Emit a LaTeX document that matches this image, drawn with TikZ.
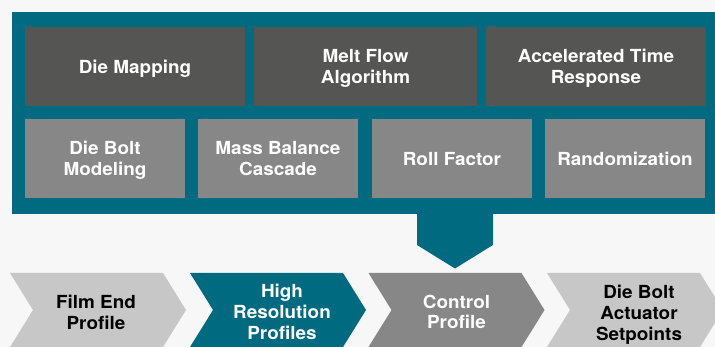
\documentclass[tikz,border=0pt]{standalone}
\usepackage{fontspec}
\setmainfont{TeX Gyre Heros}[FakeStretch=1.05]
\usepackage{tikz}
\usetikzlibrary{calc}
\usepackage{xcolor}
\definecolor{frameteal}{HTML}{006A80}
\definecolor{tiledark}{HTML}{555553}
\definecolor{tilegray}{HTML}{878787}
\definecolor{steplight}{HTML}{C6C7C6}
\definecolor{pagebg}{HTML}{F7F7F7}
\newcommand{\chevw}{153}
\newcommand{\chevtip}{23}
\newcommand{\prchev}[2]{\fill[#2] (#1,273) -- ++(\chevw,0) -- ++(\chevtip,37) -- ++(-\chevtip,37) -- ++(-\chevw,0) -- ++(\chevtip,-37) -- cycle;}

\begin{document}
\begin{tikzpicture}[x=1pt,y=-1pt,
    bigtext/.style={align=center,inner sep=0pt,font=\bfseries\fontsize{18}{20.8}\selectfont},
    tile/.style={bigtext,text=white,text depth=0pt,minimum height=79pt},
    darktile/.style={tile,fill=tiledark,minimum width=220pt},
    graytile/.style={tile,fill=tilegray,minimum width=160pt},
    label/.style={bigtext}]
	\fill[pagebg] (0,0) rectangle (715,347);
	\clip (0,0) rectangle (715,347);

	% frame with the down arrow
	\fill[frameteal] (12,12) rectangle (720,214);
	\fill[frameteal] (417,213) -- (493,213) -- (493,245) -- (455,268.5) -- (417,245) -- cycle;

	\node[darktile] (map) at (135,66.5) {Die Mapping};
	\node[darktile,minimum width=223pt] (melt) at (365.5,66.5) {Melt Flow\\Algorithm};
	\node[darktile] (atr) at (596,66.5) {Accelerated Time\\Response};

	\node[graytile] (bolt) at (105,158.5) {Die Bolt\\Modeling};
	\node[graytile] (mass) at (278,158.5) {Mass Balance\\Cascade};
	\node[graytile] (roll) at (452,158.5) {Roll Factor};
	\node[graytile] (rand) at (625,158.5) {Randomization};

	% process steps
	\prchev{10}{steplight}
	\prchev{190}{frameteal}
	\prchev{368.5}{tilegray}
	\prchev{547}{steplight}
	\node[label] (film) at (96,312) {Film End\\Profile};
	\node[label,text=white] (hires) at (282,312) {High\\Resolution\\Profiles};
	\node[label,text=white] (ctrl) at (456.5,312) {Control\\Profile};
	\node[label] (setp) at (639,314.5) {Die Bolt\\Actuator\\Setpoints};
\end{tikzpicture}
\end{document}
